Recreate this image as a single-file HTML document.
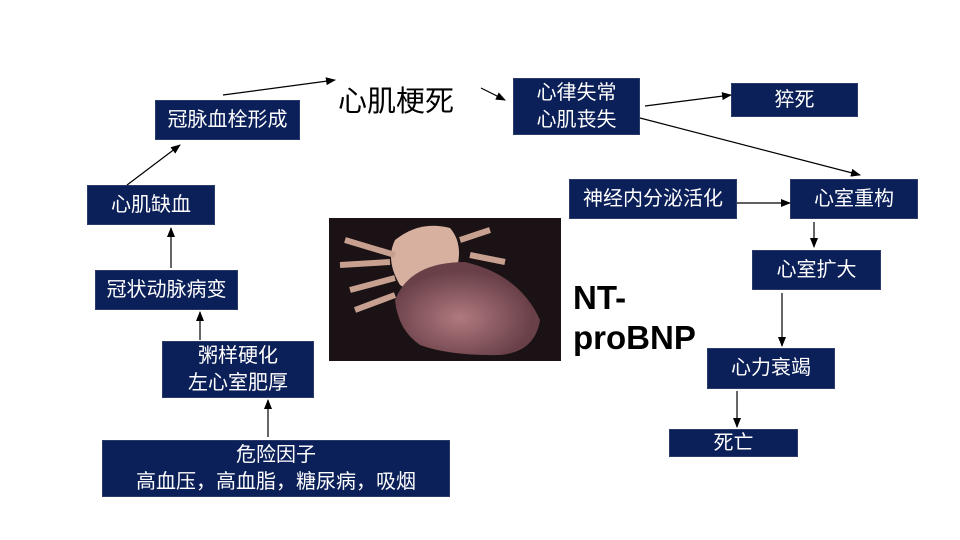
<!DOCTYPE html>
<html><head><meta charset="utf-8"><style>
body{margin:0;width:960px;height:540px;background:#fff;position:relative;overflow:hidden;font-family:"Liberation Sans","Noto Sans CJK SC",sans-serif}
.b{position:absolute;background:#0b1f58;border:1px solid #2a3a6a;color:#fff;font-size:20px;display:flex;align-items:center;justify-content:center;text-align:center;line-height:27px;box-sizing:border-box}
svg{position:absolute;left:0;top:0}
</style></head><body>
<div class="b" style="left:155px;top:100px;width:145px;height:40px">冠脉血栓形成</div>
<div class="b" style="left:87px;top:185px;width:128px;height:40px">心肌缺血</div>
<div class="b" style="left:95px;top:270px;width:143px;height:40px">冠状动脉病变</div>
<div class="b" style="left:162px;top:341px;width:152px;height:57px">粥样硬化<br>左心室肥厚</div>
<div class="b" style="left:102px;top:440px;width:348px;height:57px">危险因子<br>高血压，高血脂，糖尿病，吸烟</div>
<div style="position:absolute;left:338px;top:78px;font-size:29px;color:#000">心肌梗死</div>
<div class="b" style="left:513px;top:78px;width:127px;height:57px">心律失常<br>心肌丧失</div>
<div class="b" style="left:731px;top:83px;width:127px;height:34px">猝死</div>
<div class="b" style="left:569px;top:179px;width:168px;height:40px">神经内分泌活化</div>
<div class="b" style="left:790px;top:179px;width:128px;height:40px">心室重构</div>
<div class="b" style="left:752px;top:250px;width:129px;height:40px">心室扩大</div>
<div class="b" style="left:707px;top:348px;width:128px;height:41px">心力衰竭</div>
<div class="b" style="left:669px;top:429px;width:129px;height:28px">死亡</div>
<div style="position:absolute;left:573px;top:278px;font-size:33px;font-weight:bold;line-height:40px;color:#000">NT-<br>proBNP</div>
<svg width="960" height="540">
<defs><marker id="a" markerWidth="10" markerHeight="8" refX="9" refY="4" orient="auto" markerUnits="userSpaceOnUse"><path d="M0,0L10,4L0,8z" fill="#000"/></marker>
<radialGradient id="h" cx="0.45" cy="0.6" r="0.5"><stop offset="0" stop-color="#b07a80"/><stop offset="1" stop-color="#6a4048"/></radialGradient></defs>
<g stroke="#000" stroke-width="1.2" marker-end="url(#a)">
<line x1="223" y1="95" x2="335" y2="80"/>
<line x1="481" y1="88" x2="505" y2="100"/>
<line x1="645" y1="106" x2="731" y2="95"/>
<line x1="640" y1="118" x2="860" y2="175"/>
<line x1="737" y1="203" x2="790" y2="203"/>
<line x1="814" y1="222" x2="814" y2="247"/>
<line x1="782" y1="293" x2="782" y2="346"/>
<line x1="737" y1="391" x2="737" y2="427"/>
<line x1="127" y1="185" x2="180" y2="145"/>
<line x1="171" y1="268" x2="171" y2="228"/>
<line x1="200" y1="340" x2="200" y2="312"/>
<line x1="268" y1="437" x2="268" y2="400"/>
</g>
<rect x="329" y="218" width="232" height="143" fill="#1a1214"/>
<path d="M395,240 Q420,220 450,228 Q465,245 455,275 Q420,300 400,285 Q385,260 395,240z" fill="#d8b0a0"/>
<path d="M395,300 Q410,262 465,262 Q520,275 540,320 Q535,352 500,355 Q450,356 420,345 Q398,330 395,300z" fill="url(#h)"/>
<path d="M345,240 L395,255 M340,265 L390,262 M350,290 L395,278 M355,310 L395,295 M460,240 L490,230 M470,255 L505,262" stroke="#c8a090" stroke-width="6"/>
</svg>
</body></html>
